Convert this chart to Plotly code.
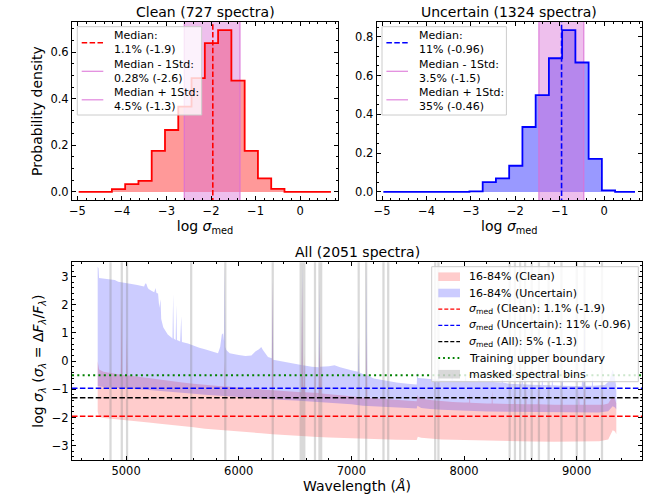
import plotly.graph_objects as go

# ---------------- histogram data (log sigma_med) ----------------
BIN_CENTERS = [-4.97, -4.672, -4.374, -4.076, -3.778, -3.48, -3.182, -2.884, -2.586, -2.288,
               -1.99, -1.692, -1.394, -1.096, -0.798, -0.5, -0.202, 0.096, 0.394, 0.692]
CLEAN_DENSITY = [0, 0, 0, 0.012, 0.033, 0.047, 0.176, 0.266, 0.366, 0.489,
                 0.639, 0.695, 0.478, 0.176, 0.058, 0.013, 0, 0, 0, 0]
UNCERTAIN_DENSITY = [0, 0, 0, 0, 0, 0, 0, 0.003, 0.05, 0.07,
                     0.135, 0.335, 0.50, 0.69, 0.835, 0.668, 0.17, 0.008, 0, 0]

CLEAN_STATS = [-1.96, -2.6, -1.35]        # median, median-1std, median+1std
UNCERTAIN_STATS = [-0.96, -1.47, -0.46]
CLEAN_LABELS = ["Median:<br>1.1% (-1.9)", "Median - 1Std:<br>0.28% (-2.6)", "Median + 1Std:<br>4.5% (-1.3)"]
UNCERTAIN_LABELS = ["Median:<br>11% (-0.96)", "Median - 1Std:<br>3.5% (-1.5)", "Median + 1Std:<br>35% (-0.46)"]

# ---------------- spectral data (log sigma_lambda) ----------------
UNC_HI_WL = [4748, 4756, 4760, 4800, 4850, 4900, 4930, 4970, 5000, 5050, 5100, 5130, 5160, 5170, 5180, 5190,
             5200, 5225, 5250, 5262, 5270, 5284, 5295, 5306, 5312, 5330, 5344, 5370, 5400, 5412, 5418, 5424,
             5440, 5446, 5452, 5480, 5490, 5496, 5550, 5600, 5650, 5700, 5760, 5816, 5835, 5850, 5862, 5870,
             5876, 5882, 5890, 5920, 6000, 6060, 6112, 6150, 6180, 6200, 6215, 6230, 6260, 6294, 6300, 6306,
             6350, 6400, 6450, 6520, 6557, 6563, 6569, 6650, 6710, 6716, 6722, 6800, 6850, 6900, 6950, 7000,
             7060, 7065, 7070, 7131, 7136, 7141, 7200, 7300, 7400, 7500, 7580, 7586, 7592, 7650, 7700, 7768,
             7774, 7780, 7850, 7890, 7895, 7900, 8008, 8014, 8020, 8126, 8132, 8140, 8245, 8251, 8258, 8334,
             8340, 8346, 8400, 8511, 8517, 8523, 8600, 8689, 8695, 8701, 8778, 8784, 8790, 8867, 8873, 8879,
             9000, 9045, 9051, 9063, 9069, 9075, 9134, 9140, 9146, 9250, 9290, 9320, 9335, 9345, 9352]
UNC_HI = [3.35, 3.30, 2.95, 2.93, 2.90, 2.88, 2.82, 2.80, 2.78, 2.74, 2.70, 2.68, 2.65, 2.76, 2.75, 2.62,
          2.56, 2.50, 2.45, 2.60, 2.42, 2.40, 1.90, 2.20, 1.50, 1.20, 1.10, 0.95, 0.85, 0.80, 2.40, 0.80,
          0.75, 2.00, 0.75, 0.70, 1.60, 0.68, 0.63, 0.55, 0.48, 0.42, 0.36, 0.28, 0.50, 0.95, 0.99, 0.70,
          3.40, 0.50, 0.40, 0.28, 0.22, 0.18, 0.20, 0.35, 0.42, 0.50, 0.40, 0.30, 0.15, 0.10, 2.95, 0.05,
          0.02, -0.02, -0.06, -0.10, -0.14, 3.50, -0.15, -0.20, -0.22, 2.90, -0.20, -0.18, -0.15, -0.22, -0.28, -0.32,
          -0.38, 0.87, -0.40, -0.50, 3.50, -0.50, -0.62, -0.70, -0.76, -0.80, -0.83, -0.36, -0.60, -0.62, -0.64, -0.66,
          -0.20, -0.66, -0.68, -0.68, -0.36, -0.68, -0.70, -0.40, -0.70, -0.72, -0.40, -0.72, -0.74, -0.30, -0.74, -0.76,
          -0.36, -0.76, -0.80, -0.82, -0.45, -0.82, -0.84, -0.85, -0.45, -0.85, -0.86, -0.50, -0.86, -0.87, -0.40, -0.87,
          -0.88, -0.88, -0.50, -0.87, 3.50, -0.87, -0.87, -0.50, -0.87, -0.85, -0.70, -0.30, -0.50, -0.70, -0.90]

UNC_LO_WL = [4748, 4800, 4900, 5000, 5100, 5200, 5300, 5400, 5500, 5600, 5700, 5800, 5900, 6000, 6100, 6200,
             6300, 6400, 6500, 6600, 6700, 6800, 6900, 7000, 7100, 7200, 7300, 7400, 7500, 7580, 7586, 7620,
             7700, 7800, 7900, 8000, 8200, 8400, 8600, 8800, 9000, 9200, 9280, 9320, 9340, 9352]
UNC_LO = [-0.88, -0.92, -0.95, -0.98, -1.00, -1.02, -1.05, -1.08, -1.12, -1.16, -1.19, -1.22, -1.25, -1.27, -1.30, -1.33,
          -1.36, -1.38, -1.40, -1.42, -1.44, -1.47, -1.50, -1.53, -1.58, -1.60, -1.62, -1.64, -1.66, -1.68, -1.58, -1.66,
          -1.70, -1.73, -1.75, -1.77, -1.79, -1.80, -1.81, -1.82, -1.82, -1.82, -1.78, -1.60, -1.65, -1.72]

CLEAN_HI_WL = [4748, 4754, 4760, 4800, 4850, 4900, 4954, 4959, 4964, 5002, 5007, 5012, 5100, 5200, 5300, 5400,
               5500, 5600, 5700, 5800, 5871, 5876, 5881, 5900, 6000, 6100, 6200, 6295, 6300, 6305, 6400, 6500,
               6556, 6563, 6570, 6578, 6583, 6588, 6673, 6678, 6683, 6711, 6716, 6724, 6731, 6736, 6800, 6900,
               7000, 7100, 7131, 7136, 7141, 7200, 7300, 7400, 7500, 7580, 7586, 7600, 7700, 7800, 7900, 8000,
               8045, 8050, 8055, 8200, 8245, 8250, 8255, 8400, 8445, 8450, 8455, 8545, 8550, 8555, 8655, 8660,
               8665, 8800, 8865, 8870, 8875, 9015, 9020, 9025, 9064, 9069, 9074, 9200, 9225, 9230, 9235, 9280,
               9320, 9340, 9352]
CLEAN_HI = [0.00, -0.10, -0.30, -0.38, -0.42, -0.45, -0.48, 2.30, -0.48, -0.50, 0.90, -0.50, -0.55, -0.60, -0.65, -0.70,
            -0.76, -0.80, -0.84, -0.87, -0.90, 0.00, -0.90, -0.90, -0.95, -0.98, -1.00, -1.03, 2.90, -1.03, -1.06, -1.09,
            -1.10, 2.90, -0.80, -1.00, 0.30, -1.10, -1.12, 0.40, -1.12, -1.13, 0.80, -1.00, 0.50, -1.15, -1.17, -1.21,
            -1.25, -1.29, -1.30, 1.00, -1.30, -1.32, -1.35, -1.38, -1.40, -1.42, -1.20, -1.32, -1.38, -1.42, -1.45, -1.47,
            -1.47, -1.10, -1.48, -1.50, -1.50, -1.05, -1.50, -1.52, -1.52, -1.10, -1.52, -1.53, -0.95, -1.53, -1.53, -1.00,
            -1.53, -1.55, -1.55, -1.10, -1.55, -1.55, -1.00, -1.55, -1.55, -0.90, -1.55, -1.55, -1.55, -1.05, -1.55, -1.50,
            -1.25, -1.35, -1.50]

CLEAN_LO_WL = [4748, 4760, 4800, 4900, 5000, 5100, 5200, 5300, 5400, 5500, 5600, 5700, 5800, 5900, 6000, 6100,
               6200, 6300, 6400, 6500, 6600, 6700, 6800, 6900, 7000, 7200, 7400, 7580, 7590, 7620, 7800, 8000,
               8200, 8400, 8600, 8800, 9000, 9200, 9280, 9320, 9340, 9352]
CLEAN_LO = [-1.80, -1.97, -2.02, -2.06, -2.10, -2.14, -2.18, -2.22, -2.26, -2.30, -2.35, -2.40, -2.44, -2.47, -2.50, -2.53,
            -2.56, -2.60, -2.62, -2.64, -2.67, -2.69, -2.71, -2.73, -2.75, -2.77, -2.79, -2.80, -2.68, -2.72, -2.78, -2.80,
            -2.82, -2.84, -2.85, -2.86, -2.86, -2.84, -2.78, -2.45, -2.50, -2.60]

MASK_CENTERS = [4862, 4962, 5009, 5578, 5881, 6302, 6550, 6565, 6582, 6677, 6717, 6732, 7065, 7131, 7285,
                7327, 7744, 7773, 8405, 8452, 8498, 8542, 8601, 8665, 8751, 8865, 9001, 9070, 9225]
MASK_HALF = 10

HLINE_VALUES = [-1.96, -0.96, -1.30, -0.5]
BOTTOM_LABELS = ["16-84% (Clean)", "16-84% (Uncertain)",
                 "<i>σ</i><sub>med</sub> (Clean): 1.1% (-1.9)",
                 "<i>σ</i><sub>med</sub> (Uncertain): 11% (-0.96)",
                 "<i>σ</i><sub>med</sub> (All): 5% (-1.3)",
                 "Training upper boundary", "masked spectral bins"]

# ---------------- figure ----------------
W, H = 656, 497
ML, MR, MT, MB = 72, 14, 22, 37
PW, PH = W - ML - MR, H - MT - MB
FONT = "DejaVu Sans"
SPAN_FILL = "rgba(218,112,214,0.45)"
SPAN_LINE = "rgba(218,112,214,0.85)"
DASH = "5.5px,2.4px"
DOT = "2px,3.3px"

fig = go.Figure()


def add_hist(xa, ya, dens, stats, color, fill):
    fig.add_trace(go.Scatter(x=BIN_CENTERS, y=dens, mode="lines", line=dict(width=0, shape="hvh"),
                             fill="tozeroy", fillcolor=fill, hoverinfo="skip", xaxis=xa, yaxis=ya))
    m, lo, hi = stats
    fig.add_trace(go.Scatter(x=[lo, hi, hi, lo, lo], y=[-1, -1, 2, 2, -1], mode="lines",
                             line=dict(width=0), fill="toself", fillcolor=SPAN_FILL,
                             hoverinfo="skip", xaxis=xa, yaxis=ya))
    for v in [lo, hi]:
        fig.add_trace(go.Scatter(x=[v, v], y=[-1, 2], mode="lines", line=dict(color=SPAN_LINE, width=1.2),
                                 xaxis=xa, yaxis=ya))
    fig.add_trace(go.Scatter(x=BIN_CENTERS, y=dens, mode="lines", line=dict(color=color, width=1.8, shape="hvh"),
                             hoverinfo="skip", xaxis=xa, yaxis=ya))
    fig.add_trace(go.Scatter(x=[m, m], y=[-1, 2], mode="lines",
                             line=dict(color=color, width=1.6, dash=DASH), xaxis=xa, yaxis=ya))


add_hist("x", "y", CLEAN_DENSITY, CLEAN_STATS, "red", "rgba(255,0,0,0.4)")
add_hist("x2", "y2", UNCERTAIN_DENSITY, UNCERTAIN_STATS, "blue", "rgba(0,0,255,0.4)")

# bands
fig.add_trace(go.Scatter(x=CLEAN_HI_WL + CLEAN_LO_WL[::-1], y=CLEAN_HI + CLEAN_LO[::-1], mode="lines",
                         line=dict(width=0), fill="toself", fillcolor="rgba(255,0,0,0.2)",
                         xaxis="x3", yaxis="y3"))
fig.add_trace(go.Scatter(x=UNC_HI_WL + UNC_LO_WL[::-1], y=UNC_HI + UNC_LO[::-1], mode="lines",
                         line=dict(width=0), fill="toself", fillcolor="rgba(0,0,255,0.2)",
                         xaxis="x3", yaxis="y3"))

# masked bins
mx, my = [], []
for c in MASK_CENTERS:
    mx += [c - MASK_HALF, c + MASK_HALF, c + MASK_HALF, c - MASK_HALF, c - MASK_HALF, None]
    my += [-5, -5, 5, 5, -5, None]
MASK_FILL = "rgba(128,128,128,0.3)"
fig.add_trace(go.Scatter(x=mx, y=my, mode="lines", line=dict(width=0), fill="toself",
                         fillcolor=MASK_FILL, xaxis="x3", yaxis="y3", hoverinfo="skip"))

X3_RANGE = [4520, 9580]
hl_styles = [dict(color="red", width=1.5, dash=DASH),
             dict(color="blue", width=1.5, dash=DASH),
             dict(color="black", width=1.5, dash=DASH),
             dict(color="green", width=2, dash=DOT)]
for v, st in zip(HLINE_VALUES, hl_styles):
    fig.add_trace(go.Scatter(x=X3_RANGE, y=[v, v], mode="lines", line=st, xaxis="x3", yaxis="y3"))


# ---------------- axes ----------------
def ax(domain, rng, dtick, minor, title=None, fmt=None, anchor=None):
    d = dict(domain=domain, range=rng, dtick=dtick, tick0=0, showgrid=False, zeroline=False,
             showline=True, linecolor="black", linewidth=1, mirror="allticks", automargin=False,
             ticks="inside", ticklen=4, tickwidth=1, tickcolor="black",
             minor=dict(ticks="inside", ticklen=2, dtick=minor, tickcolor="black", showgrid=False),
             tickfont=dict(family=FONT, size=11.5, color="black"), anchor=anchor)
    if title:
        d["title"] = dict(text=title, font=dict(family=FONT, size=14, color="black"), standoff=4)
    if fmt:
        d["tickformat"] = fmt
    return d


top_y = [(H - MB - 200) / PH, 1]
bot_y = [0, (H - MB - 262.3) / PH]
x1_dom = [0, (338 - ML) / PW]
x2_dom = [(376.7 - ML) / PW, 1]

lab_sigma = "log <i>σ</i><sub>med</sub>"
fig.update_layout(
    width=W, height=H, margin=dict(l=ML, r=MR, t=MT, b=MB, autoexpand=False),
    paper_bgcolor="white", plot_bgcolor="white", showlegend=False,
    font=dict(family=FONT, size=11, color="black"),
    xaxis=ax(x1_dom, [-5.12, 0.85], 1, 0.2, lab_sigma, anchor="y"),
    yaxis=ax(top_y, [-0.0348, 0.73], 0.2, 0.05, "Probability density", ".1f", anchor="x"),
    xaxis2=ax(x2_dom, [-5.12, 0.85], 1, 0.2, lab_sigma, anchor="y2"),
    yaxis2=ax(top_y, [-0.0418, 0.877], 0.2, 0.05, None, ".1f", anchor="x2"),
    xaxis3=ax([0, 1], X3_RANGE, 1000, 200, "Wavelength (<i>Å</i>)", anchor="y3"),
    yaxis3=ax(bot_y, [-3.51, 3.51], 1, 0.2,
              "log <i>σ<sub>λ</sub></i> (<i>σ<sub>λ</sub></i> = Δ<i>F<sub>λ</sub></i>/<i>F<sub>λ</sub></i>)",
              anchor="x3"),
)


# ---------------- legends (drawn as boxes, handles and texts) ----------------
def px(x):
    return (x - ML) / PW


def py(y):
    return (H - MB - y) / PH


shapes, annos = [], []


def box(x0, y0, x1, y1):
    shapes.append(dict(type="rect", xref="paper", yref="paper", x0=px(x0), x1=px(x1), y0=py(y1), y1=py(y0),
                       fillcolor="rgba(255,255,255,0.8)", line=dict(color="rgb(204,204,204)", width=1),
                       layer="above"))


def handle_line(x0, x1, y, color, width, dash):
    shapes.append(dict(type="line", xref="paper", yref="paper", x0=px(x0), x1=px(x1), y0=py(y), y1=py(y),
                       line=dict(color=color, width=width, dash=dash), layer="above"))


def handle_patch(x0, x1, y, color):
    shapes.append(dict(type="rect", xref="paper", yref="paper", x0=px(x0), x1=px(x1), y0=py(y + 4.3),
                       y1=py(y - 4.3), fillcolor=color, line=dict(width=0), layer="above"))


def text(x, y, t):
    annos.append(dict(text=t, xref="paper", yref="paper", x=px(x), y=py(y), xanchor="left",
                      yanchor="middle", showarrow=False, borderpad=0, align="left",
                      font=dict(family=FONT, size=11, color="black")))


def top_legend(x0, labels, color):
    box(x0, 26.7, x0 + 124.4, 115)
    rows = [42.8, 71.3, 99.8]
    for i, (lab, yc) in enumerate(zip(labels, rows)):
        if i == 0:
            handle_line(x0 + 4.4, x0 + 26, yc, color, 1.6, DASH)
        else:
            handle_line(x0 + 4.4, x0 + 26, yc, SPAN_LINE, 1.2, "solid")
        text(x0 + 35.5, yc, lab)


top_legend(77.3, CLEAN_LABELS, "red")
top_legend(382.0, UNCERTAIN_LABELS, "blue")

bx0 = 431.7
box(bx0, 266.7, 638.3, 381.7)
brow = [276.7, 293.0, 309.2, 325.4, 341.7, 358.0, 374.2]
hx0, hx1 = bx0 + 6.6, bx0 + 28.3
handle_patch(hx0, hx1, brow[0], "rgba(255,0,0,0.2)")
handle_patch(hx0, hx1, brow[1], "rgba(0,0,255,0.2)")
handle_line(hx0, hx1, brow[2], "red", 1.3, "4px,2px")
handle_line(hx0, hx1, brow[3], "blue", 1.3, "4px,2px")
handle_line(hx0, hx1, brow[4], "black", 1.3, "4px,2px")
handle_line(hx0, hx1, brow[5], "green", 1.8, "1.8px,3px")
handle_patch(hx0, hx1, brow[6], MASK_FILL)
for lab, yc in zip(BOTTOM_LABELS, brow):
    text(bx0 + 36.6, yc, lab)

titles = [("Clean (727 spectra)", "x", "y"), ("Uncertain (1324 spectra)", "x2", "y2"),
          ("All (2051 spectra)", "x3", "y3")]
for t, xa, ya in titles:
    annos.append(dict(text=t, xref=f"{xa} domain", yref=f"{ya} domain", x=0.5, y=1,
                      xanchor="center", yanchor="bottom", showarrow=False, yshift=0,
                      font=dict(family=FONT, size=14, color="black")))

fig.update_layout(shapes=shapes, annotations=annos)
fig.write_html("out.html")
